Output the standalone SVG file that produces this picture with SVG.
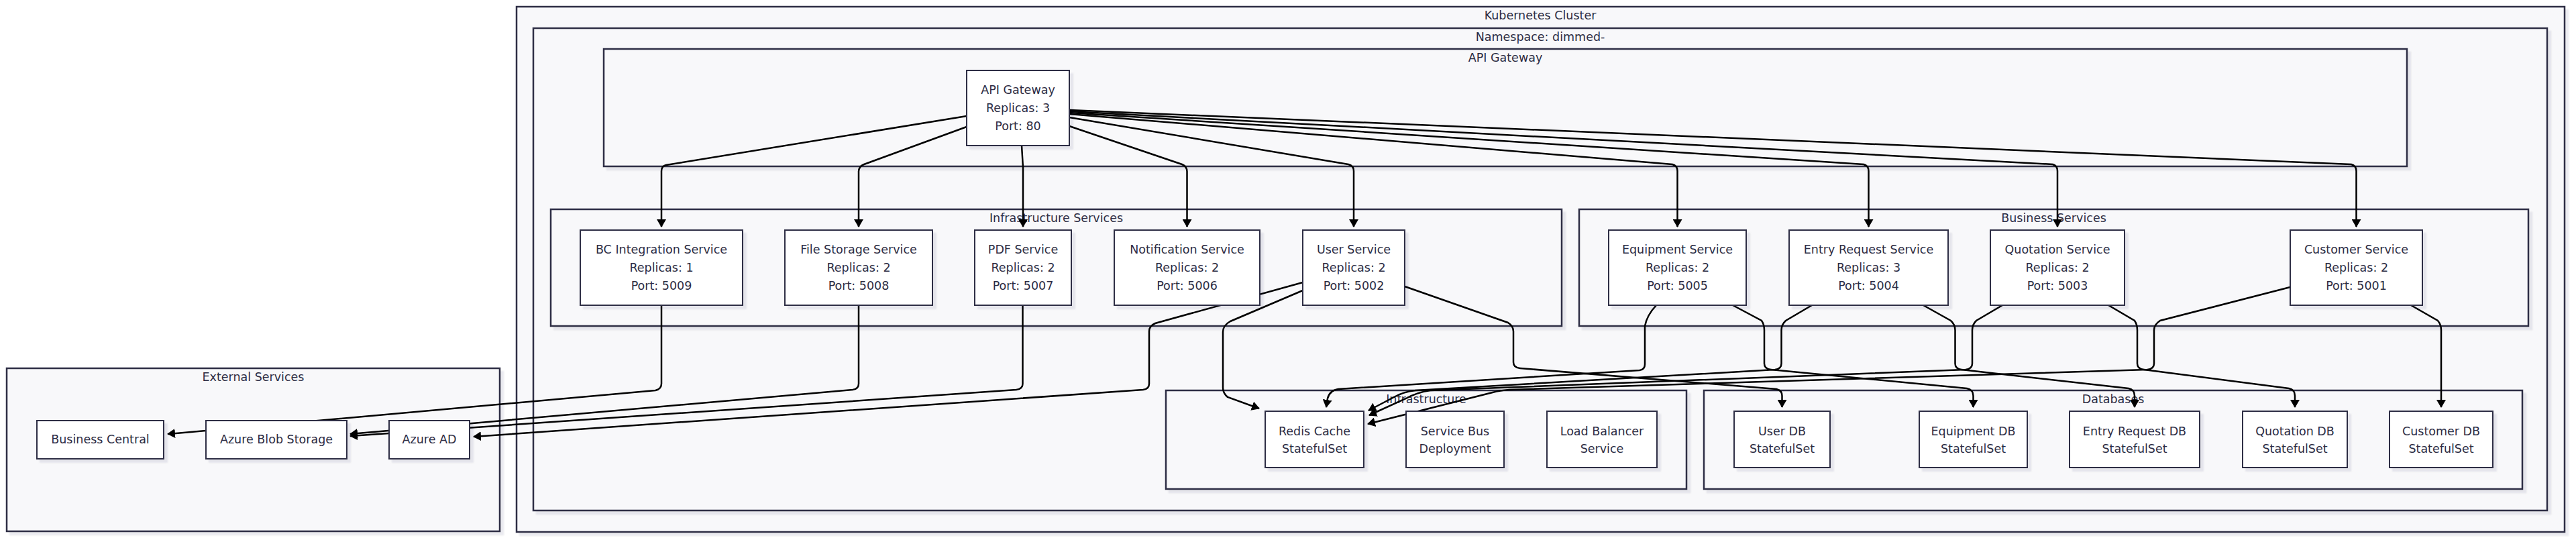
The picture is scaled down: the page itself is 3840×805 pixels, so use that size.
<svg xmlns="http://www.w3.org/2000/svg" width="3840" height="805" viewBox="0 0 3840 805">
<style>
  .cl rect { fill: #f8f8fa; stroke: #2d2d44; stroke-width: 2.5; filter: url(#sh); }
  .nd rect { fill: #ffffff; stroke: #2d2d44; stroke-width: 2; filter: url(#sh); }
  text { font-family: "DejaVu Sans", "Liberation Sans", sans-serif; font-size: 17.5px; fill: #2d2d44; text-anchor: middle; }
  .e { fill: none; stroke: #000000; stroke-width: 2.5; marker-end: url(#arr); }
</style>
<defs>
  <filter id="sh" x="-5%" y="-5%" width="115%" height="120%">
    <feDropShadow dx="5" dy="5" stdDeviation="0.8" flood-color="#1a1a2e" flood-opacity="0.08"/>
  </filter>
  <marker id="arr" markerUnits="userSpaceOnUse" viewBox="0 0 12 14" markerWidth="12" markerHeight="14" refX="11" refY="7" orient="auto">
    <path d="M0,0 L12,7 L0,14 z" fill="#000000"/>
  </marker>
</defs>
<rect width="3840" height="805" fill="#ffffff"/>

<!-- clusters -->
<g id="external-services" class="cl">
  <rect x="10" y="549" width="735" height="243"/>
  <text x="377.5" y="568">External Services</text>
</g>
<g id="kubernetes-cluster" class="cl">
  <rect x="770" y="10" width="3053" height="783"/>
  <text x="2296" y="29">Kubernetes Cluster</text>
</g>
<g id="namespace" class="cl">
  <rect x="795" y="42" width="3002" height="719"/>
  <text x="2296" y="61">Namespace: dimmed-</text>
</g>
<g id="api-gateway-group" class="cl">
  <rect x="900" y="73" width="2688" height="175"/>
  <text x="2244" y="92">API Gateway</text>
</g>
<g id="infrastructure-services" class="cl">
  <rect x="821" y="312" width="1507" height="174"/>
  <text x="1574.5" y="331">Infrastructure Services</text>
</g>
<g id="business-services" class="cl">
  <rect x="2354" y="312" width="1415" height="174"/>
  <text x="3061.5" y="331">Business Services</text>
</g>
<g id="infrastructure" class="cl">
  <rect x="1738" y="582" width="776" height="147"/>
  <text x="2126" y="601">Infrastructure</text>
</g>
<g id="databases" class="cl">
  <rect x="2540" y="582" width="1220" height="147"/>
  <text x="3150" y="601">Databases</text>
</g>

<!-- connectors -->
<g id="connectors">
  <path class="e" d="M1441,173 L993,246 Q986,247.5 986,255 L986,338"/>
  <path class="e" d="M1441,189 L1288,245 Q1280,248 1280,256 L1280,338"/>
  <path class="e" d="M1523,217 L1525,250 L1525,338"/>
  <path class="e" d="M1594,188 L1762,245 Q1769.5,248 1769.5,256 L1769.5,338"/>
  <path class="e" d="M1594,175 L2010,245 Q2018,247 2018,255 L2018,338"/>
  <path class="e" d="M1594,170 L2493,245 Q2500.5,247 2500.5,255 L2500.5,338"/>
  <path class="e" d="M1594,168 L2778,245 Q2785.5,247 2785.5,255 L2785.5,338"/>
  <path class="e" d="M1594,166 L3060,245 Q3067,247 3067,255 L3067,338"/>
  <path class="e" d="M1594,164 L3505,245 Q3512.5,247 3512.5,255 L3512.5,338"/>

  <path class="e" d="M986,455 L986,572 Q986,580 977,582 L250,647"/>
  <path class="e" d="M1280,455 L1280,572 Q1280,580 1271,581 L522,647"/>
  <path class="e" d="M1524.5,455 L1524.5,572 Q1524.5,580 1515,581 L522,650"/>
  <path class="e" d="M1942,421 L1722,482 Q1713,486 1713,494 L1713,572 Q1713,580 1704,581 L706,651"/>
  <path class="e" d="M1942,433 L1834,479 Q1823,485 1823,495 L1823,578 Q1823,586 1830,592 L1877,609"/>
  <path class="e" d="M2094,427 L2248,481 Q2256,486 2256,494 L2256,540 Q2256,548 2266,549 L2648,580 Q2656.5,582 2656.5,590 L2656.5,607"/>

  <path class="e" d="M2469,455 Q2455,470 2452,486 L2452,543 Q2452,551 2444,552 L1995,580 Q1982,582 1979,594 L1977,607"/>
  <path class="e" d="M2583,455 L2626,478 Q2630,484 2630,492 L2630,542 Q2630,550 2640,551 L2932,579 Q2941.5,581 2941.5,590 L2941.5,607"/>
  <path class="e" d="M2701,455 L2662,478 Q2655.5,484 2655.5,492 L2655.5,542 Q2655.5,550 2646,551 L2110,582 Q2092,584 2078,592 L2040,612"/>
  <path class="e" d="M2867,455 L2908,478 Q2914.5,484 2914.5,492 L2914.5,542 Q2914.5,550 2924,551 L3173,579 Q3182,581 3182,590 L3182,607"/>
  <path class="e" d="M2985,455 L2946,478 Q2940,484 2940,492 L2940,542 Q2940,550 2930,551 L2132,582 Q2112,585 2096,594 L2041,619"/>
  <path class="e" d="M3143,455 L3182,478 Q3186,484 3186,492 L3186,542 Q3186,550 3196,551 L3412,579 Q3421,581 3421,590 L3421,607"/>
  <path class="e" d="M3414,428 L3220,478 Q3211,484 3211,492 L3211,542 Q3211,550 3201,551 L2250,581 Q2236,582 2225,585 L2039,632"/>
  <path class="e" d="M3594,455 L3634,478 Q3639,484 3639,492 L3639,607"/>
</g>

<!-- nodes -->
<g id="api-gateway" class="nd">
  <rect x="1441" y="105" width="153" height="112"/>
  <text x="1517.5" y="140">API Gateway</text>
  <text x="1517.5" y="167">Replicas: 3</text>
  <text x="1517.5" y="193.5">Port: 80</text>
</g>
<g id="bc-integration-service" class="nd">
  <rect x="865" y="343" width="242" height="112"/>
  <text x="986" y="377.5">BC Integration Service</text>
  <text x="986" y="404.5">Replicas: 1</text>
  <text x="986" y="431.5">Port: 5009</text>
</g>
<g id="file-storage-service" class="nd">
  <rect x="1170" y="343" width="220" height="112"/>
  <text x="1280" y="377.5">File Storage Service</text>
  <text x="1280" y="404.5">Replicas: 2</text>
  <text x="1280" y="431.5">Port: 5008</text>
</g>
<g id="pdf-service" class="nd">
  <rect x="1453" y="343" width="144" height="112"/>
  <text x="1525" y="377.5">PDF Service</text>
  <text x="1525" y="404.5">Replicas: 2</text>
  <text x="1525" y="431.5">Port: 5007</text>
</g>
<g id="notification-service" class="nd">
  <rect x="1661" y="343" width="217" height="112"/>
  <text x="1769.5" y="377.5">Notification Service</text>
  <text x="1769.5" y="404.5">Replicas: 2</text>
  <text x="1769.5" y="431.5">Port: 5006</text>
</g>
<g id="user-service" class="nd">
  <rect x="1942" y="343" width="152" height="112"/>
  <text x="2018" y="377.5">User Service</text>
  <text x="2018" y="404.5">Replicas: 2</text>
  <text x="2018" y="431.5">Port: 5002</text>
</g>
<g id="equipment-service" class="nd">
  <rect x="2398" y="343" width="205" height="112"/>
  <text x="2500.5" y="377.5">Equipment Service</text>
  <text x="2500.5" y="404.5">Replicas: 2</text>
  <text x="2500.5" y="431.5">Port: 5005</text>
</g>
<g id="entry-request-service" class="nd">
  <rect x="2667" y="343" width="237" height="112"/>
  <text x="2785.5" y="377.5">Entry Request Service</text>
  <text x="2785.5" y="404.5">Replicas: 3</text>
  <text x="2785.5" y="431.5">Port: 5004</text>
</g>
<g id="quotation-service" class="nd">
  <rect x="2967" y="343" width="200" height="112"/>
  <text x="3067" y="377.5">Quotation Service</text>
  <text x="3067" y="404.5">Replicas: 2</text>
  <text x="3067" y="431.5">Port: 5003</text>
</g>
<g id="customer-service" class="nd">
  <rect x="3414" y="343" width="197" height="112"/>
  <text x="3512.5" y="377.5">Customer Service</text>
  <text x="3512.5" y="404.5">Replicas: 2</text>
  <text x="3512.5" y="431.5">Port: 5001</text>
</g>
<g id="redis-cache" class="nd">
  <rect x="1886" y="613" width="147" height="84"/>
  <text x="1959.5" y="648.5">Redis Cache</text>
  <text x="1959.5" y="675">StatefulSet</text>
</g>
<g id="service-bus" class="nd">
  <rect x="2096" y="613" width="146" height="84"/>
  <text x="2169" y="648.5">Service Bus</text>
  <text x="2169" y="675">Deployment</text>
</g>
<g id="load-balancer" class="nd">
  <rect x="2306" y="613" width="164" height="84"/>
  <text x="2388" y="648.5">Load Balancer</text>
  <text x="2388" y="675">Service</text>
</g>
<g id="user-db" class="nd">
  <rect x="2585" y="613" width="143" height="84"/>
  <text x="2656.5" y="648.5">User DB</text>
  <text x="2656.5" y="675">StatefulSet</text>
</g>
<g id="equipment-db" class="nd">
  <rect x="2861" y="613" width="161" height="84"/>
  <text x="2941.5" y="648.5">Equipment DB</text>
  <text x="2941.5" y="675">StatefulSet</text>
</g>
<g id="entry-request-db" class="nd">
  <rect x="3085" y="613" width="194" height="84"/>
  <text x="3182" y="648.5">Entry Request DB</text>
  <text x="3182" y="675">StatefulSet</text>
</g>
<g id="quotation-db" class="nd">
  <rect x="3343" y="613" width="156" height="84"/>
  <text x="3421" y="648.5">Quotation DB</text>
  <text x="3421" y="675">StatefulSet</text>
</g>
<g id="customer-db" class="nd">
  <rect x="3562" y="613" width="154" height="84"/>
  <text x="3639" y="648.5">Customer DB</text>
  <text x="3639" y="675">StatefulSet</text>
</g>
<g id="business-central" class="nd">
  <rect x="55" y="627" width="189" height="57"/>
  <text x="149.5" y="661">Business Central</text>
</g>
<g id="azure-blob-storage" class="nd">
  <rect x="307" y="627" width="210" height="57"/>
  <text x="412" y="661">Azure Blob Storage</text>
</g>
<g id="azure-ad" class="nd">
  <rect x="580" y="627" width="120" height="57"/>
  <text x="640" y="661">Azure AD</text>
</g>
</svg>
